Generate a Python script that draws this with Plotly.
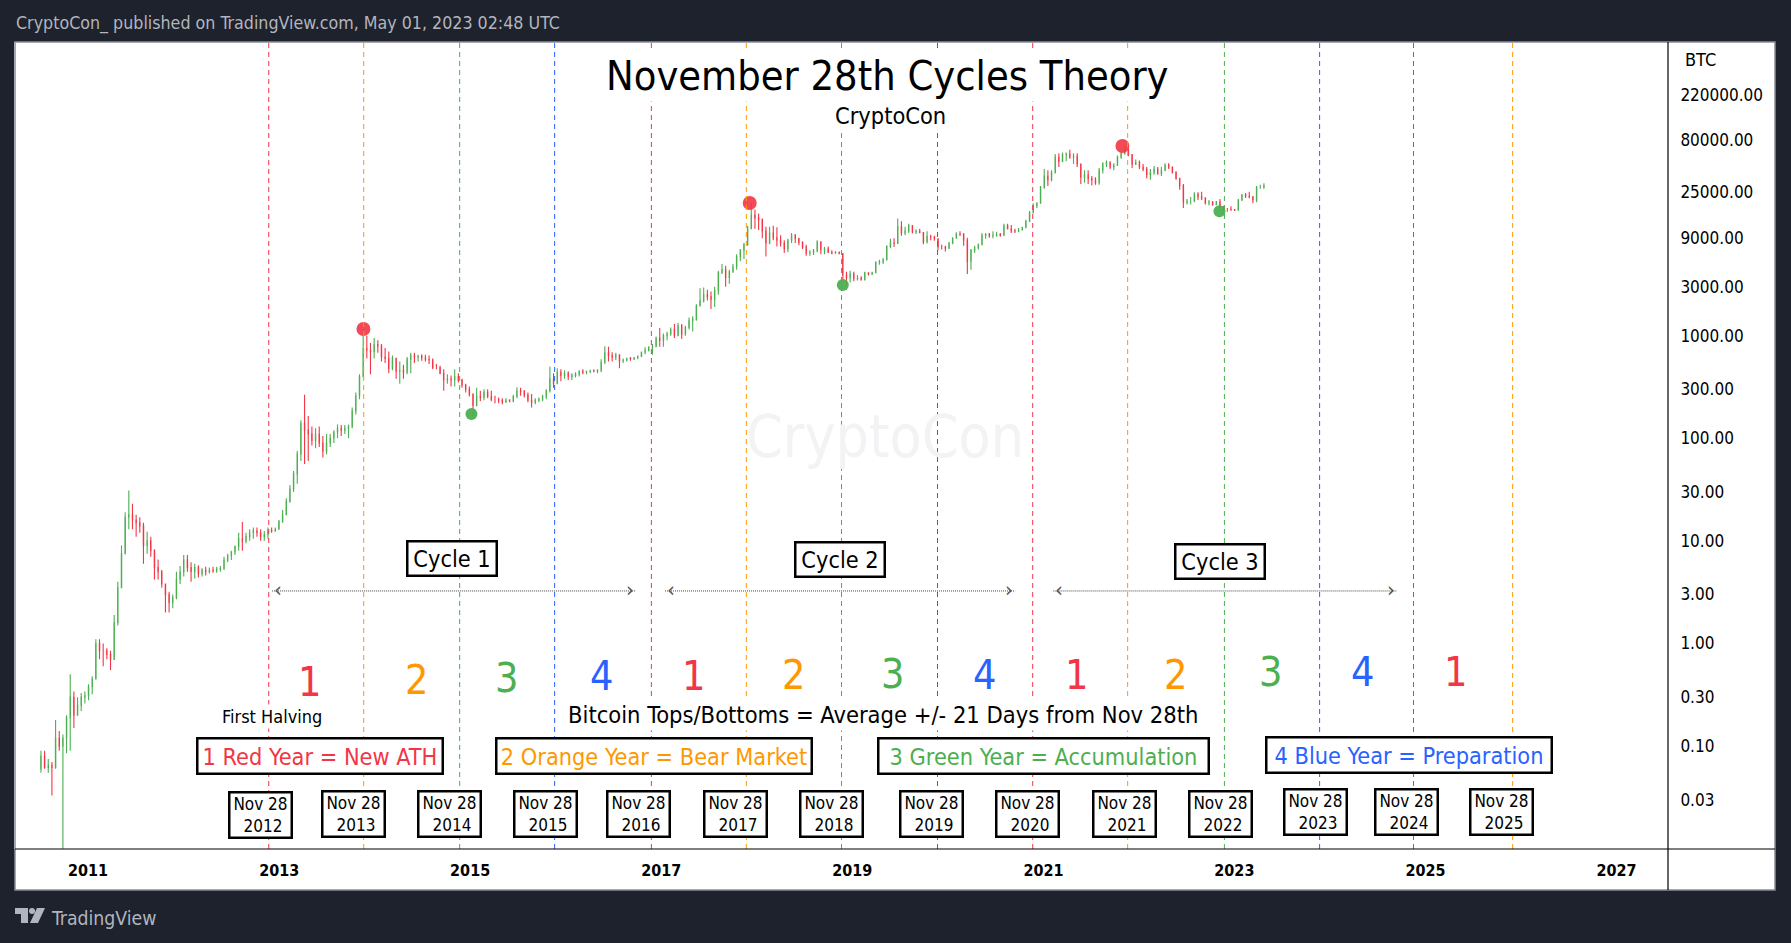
import math
import pandas as pd
import plotly.graph_objects as go

FONT = 'DejaVu Sans Condensed'
RED = '#f23645'
ORANGE = '#ff9800'
GREEN = '#4caf50'
BLUE = '#2962ff'
DARK = '#1e222d'

# candles, one every two weeks
first_open = 0.06
high_vals = [
    .09, .09, .075, .07, .18, .14, .13, .2, .5, .34,
    .3, .33, .34, .4, .48, 1.1, 1.1, 1.0, .9, .85,
    1.9, 4, 9, 19, 31, 23, 18, 17, 15, 12.3,
    11, 8.3, 6.6, 5.2, 3.8, 3.2, 3, 5, 5.7, 7.3,
    7.3, 6.2, 6, 5.8, 5.4, 5.6, 5.5, 5.6, 5.6, 5.7,
    7, 7.5, 8, 9, 12, 15.3, 12, 13, 13.5, 13.5,
    13, 12.5, 13.5, 13.5, 13.5, 16, 20, 26, 35, 48,
    75, 150, 266, 165, 130, 125, 130, 105, 110, 110,
    120, 136, 135, 135, 136, 200, 280, 420, 1163, 1000,
    850, 950, 900, 830, 760, 700, 640, 600, 560, 520,
    620, 680, 680, 650, 660, 650, 640, 600, 530, 510,
    470, 420, 410, 470, 430, 380, 340, 320, 270, 310,
    290, 300, 300, 290, 260, 250, 245, 245, 240, 265,
    315, 310, 295, 280, 270, 245, 250, 265, 300, 500,
    430, 480, 470, 460, 450, 430, 440, 460, 470, 455,
    465, 470, 470, 590, 790, 780, 690, 680, 630, 600,
    610, 620, 620, 640, 700, 770, 790, 830, 980, 1190,
    1050, 1090, 1200, 1300, 1330, 1300, 1250, 1500, 1550, 2020,
    2900, 2950, 2800, 2700, 3000, 4300, 5000, 4800, 4400, 5000,
    6200, 7000, 8000, 11700, 19650, 17000, 15500, 13900, 11500, 11500,
    11800, 11400, 9500, 8500, 8800, 10000, 9800, 9000, 8300, 7700,
    6800, 7000, 8500, 8300, 7300, 7400, 6800, 6700, 6600, 6400,
    4200, 4300, 4200, 3900, 3800, 4200, 4150, 4200, 5300, 5500,
    5700, 7600, 8800, 8900, 13900, 13000, 11500, 12300, 12000, 10900,
    11000, 10200, 10400, 9600, 9400, 8700, 7700, 7500, 8200, 9100,
    10200, 10400, 10000, 9000, 7000, 7500, 7900, 10000, 10000, 10000,
    10400, 10300, 10000, 12300, 12300, 12000, 11000, 11200, 11500, 13500,
    16400, 19500, 20000, 28800, 42000, 41000, 41000, 59000, 60000, 61000,
    61000, 64800, 60000, 60000, 47000, 41000, 41000, 36000, 35000, 43000,
    49000, 51000, 50000, 48000, 57000, 62000, 70600, 67000, 59000, 52000,
    51000, 47000, 44000, 42000, 45000, 44000, 44000, 48000, 48000, 43000,
    40000, 34500, 30000, 21500, 22500, 25000, 25000, 25200, 22000, 21000,
    20500, 20500, 21500, 18500, 17500, 18200, 17200, 21500, 24000, 24500,
    25200, 23000, 28800, 29500, 30500,
]
low_vals = [
    .055, .06, .055, .033, .06, .09, .01, .085, .09, .15,
    .2, .22, .26, .28, .32, .45, .7, .6, .7, .55,
    .7, 1.5, 3.5, 7.5, 13, 13, 11, 12, 6, 7.5,
    7, 4.2, 4.2, 3.5, 2, 2, 2.2, 2.7, 3.8, 4.5,
    5, 4, 4.3, 4.4, 4.5, 4.6, 4.8, 4.9, 4.9, 5,
    5.2, 6.2, 6.5, 7.3, 8, 8, 9.5, 10, 10.5, 11,
    10, 10, 10.5, 12, 12.3, 13, 15, 18, 24, 30,
    36, 60, 56, 60, 85, 80, 82, 65, 70, 82,
    90, 100, 105, 110, 100, 125, 170, 240, 390, 600,
    420, 600, 680, 560, 540, 430, 460, 380, 340, 380,
    420, 430, 540, 560, 570, 560, 530, 470, 470, 420,
    290, 340, 320, 320, 350, 310, 280, 255, 165, 205,
    230, 235, 245, 230, 220, 220, 215, 222, 225, 225,
    245, 260, 250, 225, 200, 215, 225, 230, 240, 280,
    310, 340, 360, 380, 370, 370, 390, 400, 420, 420,
    430, 440, 430, 440, 530, 560, 560, 580, 480, 540,
    560, 570, 580, 590, 620, 660, 700, 650, 770, 780,
    780, 900, 1000, 950, 1000, 930, 1000, 1150, 1100, 1400,
    1950, 2100, 2200, 1820, 1900, 2500, 4000, 3000, 3200, 4100,
    4400, 5300, 5600, 7500, 11500, 11000, 10700, 8900, 5900, 7800,
    8500, 7400, 7400, 6400, 6500, 8000, 8000, 7600, 7000, 6000,
    6000, 6100, 6500, 6200, 6200, 6400, 6200, 6300, 6200, 3500,
    3120, 3300, 3400, 3450, 3450, 3500, 3850, 3900, 4100, 4900,
    5000, 5400, 7100, 7300, 8800, 9400, 9500, 10000, 9900, 9800,
    10000, 7800, 7900, 8500, 8400, 6800, 6900, 6600, 7000, 7800,
    8800, 9400, 7500, 4000, 4400, 6400, 6900, 7700, 8800, 9000,
    8900, 9200, 9200, 9800, 10800, 10000, 10000, 10200, 10600, 11200,
    13000, 15500, 17500, 19500, 27000, 28800, 32000, 38000, 44000, 49000,
    50000, 53000, 47000, 44000, 30000, 31000, 30000, 29000, 29500, 29500,
    38000, 44000, 42000, 41000, 45000, 53000, 58000, 56000, 43000, 46000,
    42000, 40000, 34000, 33000, 37000, 37000, 36000, 40000, 42000, 38000,
    33000, 26500, 17500, 19000, 19000, 20000, 21000, 21000, 19000, 18600,
    18500, 18700, 17500, 16300, 16100, 16500, 16400, 16500, 20500, 22000,
    21800, 19500, 20000, 27000, 27000,
]
close_vals = [
    .08, .062, .065, .062, .12, .1, .12, .19, .3, .2,
    .25, .3, .31, .38, .45, 1.0, .85, .85, .78, .7,
    1.6, 3.5, 7.5, 17, 18, 16, 15, 14, 9, 10,
    8, 5.5, 5, 3.8, 3, 2.5, 2.8, 4.2, 5, 6.5,
    5.5, 5, 5.5, 4.8, 5.2, 5, 5.2, 5.1, 5.3, 5.4,
    6.5, 7.2, 7.8, 8.8, 10.5, 10, 11, 12, 12.5, 12,
    11, 11.5, 12.7, 12.5, 13, 15.5, 18, 24, 32, 45,
    70, 140, 120, 110, 95, 110, 90, 75, 90, 100,
    115, 125, 120, 125, 130, 185, 260, 400, 750, 720,
    700, 820, 790, 620, 600, 480, 600, 450, 460, 440,
    590, 640, 620, 630, 610, 590, 580, 490, 490, 430,
    370, 380, 370, 400, 370, 330, 300, 270, 210, 255,
    250, 280, 255, 240, 240, 235, 225, 235, 230, 255,
    290, 285, 265, 235, 225, 235, 240, 255, 290, 380,
    340, 440, 410, 430, 400, 410, 420, 450, 440, 450,
    455, 450, 460, 550, 680, 640, 620, 650, 570, 580,
    600, 595, 610, 630, 690, 720, 770, 790, 950, 900,
    1000, 1040, 1150, 1000, 1250, 1040, 1200, 1400, 1450, 1950,
    2200, 2500, 2400, 2250, 2750, 4100, 4400, 3700, 4200, 4700,
    5900, 6800, 7800, 11000, 15000, 14000, 13500, 10500, 8000, 10000,
    9000, 8500, 8000, 7000, 8500, 9500, 8800, 8100, 7300, 6400,
    6500, 6700, 8200, 6900, 7000, 6500, 6400, 6500, 6300, 3900,
    3700, 4000, 3600, 3650, 3500, 4100, 4000, 4100, 5200, 5250,
    5500, 7400, 8000, 7900, 11500, 10000, 10500, 11800, 10300, 10400,
    10100, 8200, 9300, 9200, 8800, 7300, 7300, 7100, 8000, 8900,
    9800, 9600, 8500, 5300, 6800, 7200, 7700, 9500, 9700, 9400,
    9500, 9700, 9500, 11800, 11000, 10500, 10400, 10700, 11300, 13000,
    15700, 18500, 19500, 28000, 36000, 33000, 39000, 55000, 50000, 58000,
    59000, 55000, 56000, 47000, 35000, 37000, 34000, 33000, 31000, 41000,
    47000, 49000, 44000, 46000, 55000, 60000, 65000, 58000, 47000, 49000,
    44000, 42000, 37000, 39000, 42000, 38000, 41000, 46000, 44000, 39000,
    34000, 29000, 20000, 20500, 20500, 24000, 22500, 22000, 19700, 20000,
    19000, 20000, 17800, 17000, 17000, 16800, 16700, 21000, 23500, 23000,
    22500, 21000, 28000, 28000, 29000,
]

top_dates = ['2013-11-19', '2017-12-05', '2021-10-30']
top_vals = [1163, 19650, 70600]
bottom_dates = ['2015-01-06', '2018-11-26', '2022-11-05']
bottom_vals = [172, 3120, 16300]

# the Nov 28 lines, as they fall on this chart's bar-spaced time scale
cycle_years = list(range(2012, 2026))
line_dates = ['2012-11-22', '2013-11-20', '2014-11-22', '2015-11-20', '2016-11-24', '2017-11-22', '2018-11-21',
              '2019-11-23', '2020-11-21', '2021-11-19', '2022-11-24', '2023-11-23', '2024-11-16', '2025-11-30']
cycle_colors = [RED, ORANGE, GREEN, BLUE]

cycle_starts = ['2012-12-05', '2017-01-15', '2021-02-08']
cycle_ends = ['2016-09-26', '2020-09-15', '2024-09-15']
cycle_level = 3.25

year_ticks = ['2011', '2013', '2015', '2017', '2019', '2021', '2023', '2025', '2027']
price_ticks = [220000, 80000, 25000, 9000, 3000, 1000, 300, 100, 30, 10, 3, 1, 0.3, 0.1, 0.03]

digit_labels = ['1', '2', '3', '4', '1', '2', '3', '4', '1', '2', '3', '4', '1']
digit_px = [309, 416, 506, 601, 693, 793, 892, 984, 1076, 1175, 1270, 1362, 1455]
digit_py = [681, 679, 677, 675, 675, 674, 673, 674, 674, 674, 671, 671, 671]

# page layout, in screen pixels
LEFT, RIGHT, TOP, BOTTOM = 14, 1668, 42, 849
FRAME_LEFT, FRAME_RIGHT, FRAME_BOTTOM = 15, 1775, 890


def pxx(px):
    return (px - LEFT) / (RIGHT - LEFT)


def pxy(py):
    return 1 - (py - TOP) / (BOTTOM - TOP)


def label(text, px, py, size, color='black', box=None, bg=None, family=FONT, anchor='center'):
    ann = dict(text=text, xref='paper', yref='paper', x=pxx(px), y=pxy(py + 1),
               xanchor=anchor, yanchor='middle', showarrow=False,
               font=dict(family=family, size=size, color=color))
    if bg is not None:
        ann['bgcolor'] = bg
    if box is not None:
        ann.update(width=box[0], height=box[1], bgcolor='white', bordercolor='black',
                   borderwidth=2.5, borderpad=0)
    return ann


dates = pd.date_range('2010-07-05', periods=len(close_vals), freq='14D')
open_vals = [first_open] + close_vals[:-1]

fig = go.Figure()
fig.add_trace(go.Scatter(x=top_dates, y=top_vals, mode='markers',
                         marker=dict(color=RED, size=14, opacity=0.9)))
fig.add_trace(go.Scatter(x=bottom_dates, y=bottom_vals, mode='markers',
                         marker=dict(color=GREEN, size=12, opacity=0.95)))
fig.add_trace(go.Candlestick(x=dates, open=open_vals, high=high_vals, low=low_vals, close=close_vals,
                             increasing=dict(line=dict(color=GREEN, width=1.1), fillcolor=GREEN),
                             decreasing=dict(line=dict(color=RED, width=1.1), fillcolor=RED),
                             whiskerwidth=0))

# cycle ranges, dotted with an open head at both ends
annotations = []
for start, end in zip(cycle_starts, cycle_ends):
    fig.add_trace(go.Scatter(x=[start, end], y=[cycle_level, cycle_level], mode='lines',
                             line=dict(color='#444444', width=1, dash='1px,1px')))
    for tip, glyph, side in ((start, '\u2039', 'left'), (end, '\u203a', 'right')):
        annotations.append(dict(x=tip, y=math.log10(cycle_level), xref='x', yref='y', text=glyph,
                                showarrow=False, xanchor=side, yanchor='middle', yshift=1,
                                font=dict(family=FONT, size=22, color='#555555')))

# Nov 28 lines
shapes = [dict(type='rect', xref='paper', yref='paper', layer='below',
               x0=pxx(FRAME_LEFT), x1=pxx(FRAME_RIGHT), y0=pxy(TOP), y1=pxy(FRAME_BOTTOM),
               fillcolor='white', line=dict(color='#8a8d96', width=1.5))]
for i, date in enumerate(line_dates):
    shapes.append(dict(type='line', xref='x', yref='paper', x0=date, x1=date, y0=0, y1=1,
                       line=dict(color=cycle_colors[i % 4], width=1, dash='5px,4px')))
# axis lines running out to the frame
shapes.append(dict(type='line', xref='paper', yref='paper', x0=pxx(FRAME_LEFT), x1=pxx(FRAME_RIGHT),
                   y0=0, y1=0, line=dict(color='black', width=1.2)))
shapes.append(dict(type='line', xref='paper', yref='paper', x0=1, x1=1,
                   y0=pxy(TOP), y1=pxy(FRAME_BOTTOM), line=dict(color='black', width=1.2)))
# logo
logo = 'M %f %f L %f %f L %f %f L %f %f L %f %f L %f %f L %f %f L %f %f Z' % tuple(
    v for p in [(15, 908), (28, 908), (28, 923), (21, 923), (21, 914), (15, 914), (15, 908), (15, 908)]
    for v in (pxx(p[0]), pxy(p[1])))
wedge = 'M %f %f L %f %f L %f %f L %f %f Z' % tuple(
    v for p in [(37, 908), (45, 908), (38, 923), (30, 923)] for v in (pxx(p[0]), pxy(p[1])))
for path in (logo, wedge):
    shapes.append(dict(type='path', xref='paper', yref='paper', path=path,
                       fillcolor='#b2b5be', line=dict(width=0)))
shapes.append(dict(type='circle', xref='paper', yref='paper', x0=pxx(29), x1=pxx(35), y0=pxy(914), y1=pxy(908),
                   fillcolor='#b2b5be', line=dict(width=0)))

annotations += [
    label('CryptoCon_ published on TradingView.com, May 01, 2023 02:48 UTC', 14, 22.5, 17.7, '#b2b5be', anchor='left'),
    label('TradingView', 49, 917, 19.3, '#b2b5be', anchor='left'),
    label('CryptoCon', 885, 436, 58.5, '#f3f3f5'),
    label('November 28th Cycles Theory', 887, 75, 41.2, bg='white'),
    label('CryptoCon', 891, 115, 23.4, bg='white'),
    label('BTC', 1683, 59, 18, anchor='left'),
    label('Cycle 1', 452.5, 557, 23.3, box=(87, 32)),
    label('Cycle 2', 840, 558, 23.3, box=(87, 32)),
    label('Cycle 3', 1220, 560, 23.3, box=(87, 32)),
    label('First Halving', 272, 715, 18, bg='white'),
    label('Bitcoin Tops/Bottoms = Average +/- 21 Days from Nov 28th', 883, 714, 23.5, bg='white'),
    label('1 Red Year = New ATH', 319.5, 755, 23.3, RED, box=(243, 33)),
    label('2 Orange Year = Bear Market', 653.5, 754.5, 23.3, ORANGE, box=(313, 33)),
    label('3 Green Year = Accumulation', 1043, 754.5, 23.3, GREEN, box=(328, 33)),
    label('4 Blue Year = Preparation', 1409, 754, 23.3, BLUE, box=(283, 33)),
]
for text, px, py in zip(digit_labels, digit_px, digit_py):
    annotations.append(label(text, px, py, 41, cycle_colors[int(text) - 1]))

box_px = [260, 353, 450, 545, 638.5, 735.5, 831, 931, 1027, 1124, 1220, 1315, 1406, 1501]
box_py = [814, 813, 813, 813, 813, 813, 813, 813, 813, 813, 813, 811, 811, 811]
for year, px, py in zip(cycle_years, box_px, box_py):
    annotations.append(label('Nov 28<br>\u00a0%d' % year, px, py, 17, box=(60, 43)))

fig.update_layout(
    width=1791, height=943, showlegend=False, boxgap=0.85,
    margin=dict(l=LEFT, r=1791 - RIGHT, t=TOP, b=943 - BOTTOM, pad=0),
    paper_bgcolor=DARK, plot_bgcolor='white',
    shapes=shapes, annotations=annotations,
    font=dict(family=FONT, color='black'),
    xaxis=dict(type='date', range=['2010-03-24', '2027-07-17'], rangeslider=dict(visible=False),
               showgrid=False, zeroline=False, showline=False,
               tickvals=[y + '-01-01' for y in year_ticks], ticktext=year_ticks,
               ticks='outside', ticklen=7, tickcolor='rgba(0,0,0,0)',
               tickfont=dict(family=FONT, size=16, color='black', weight=700)),
    yaxis=dict(type='log', range=[-2.003, 5.862], side='right', showgrid=False, zeroline=False,
               showline=False, tickvals=price_ticks, ticktext=['%.2f' % v for v in price_ticks],
               ticks='outside', ticklen=8, tickcolor='rgba(0,0,0,0)',
               tickfont=dict(family=FONT, size=17, color='black')),
)

assert len(high_vals) == len(low_vals) == len(close_vals)
fig.write_html("out.html", config=dict(displayModeBar=False),
               post_script="document.body.style.margin='0';document.body.style.overflow='hidden';")
